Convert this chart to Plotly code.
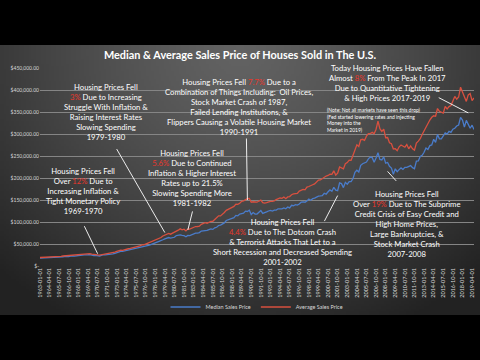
import base64, struct, zlib, math
import plotly.graph_objects as go

# ---------------- data ----------------
years = list(range(1963, 2020))
quarters = []
for y in years:
    for m in (1, 4, 7, 10):
        quarters.append(f"{y}-{m:02d}-01")
quarters = quarters[:227]  # 1963-01-01 .. 2019-07-01

median_price = [
    17800, 18000, 17900, 18500, 18500, 18900, 18900, 19400, 20200, 19800, 20200, 19800,
    21000, 22100, 21500, 21400, 22300, 23300, 22500, 22700, 23500, 24600, 25000, 25400,
    25000, 25600, 25900, 24800, 23900, 24400, 23000, 22800, 24300, 25800, 25300, 25500,
    26800, 27300, 27600, 28500, 30300, 32100, 33400, 33200, 34200, 35200, 36600, 36500,
    38100, 38700, 39400, 41500, 42200, 44000, 43700, 45500, 46300, 47700, 49300, 50600,
    51600, 54300, 56000, 57200, 59600, 61800, 63900, 64700, 63500, 64800, 65300, 69200,
    70400, 70800, 69500, 68900, 66400, 69600, 69200, 71500, 73600, 74700, 74800, 76000,
    79500, 79800, 80900, 80800, 82800, 84300, 83200, 86800, 88000, 92100, 93000, 95000,
    97900, 103400, 105000, 108000, 110000, 110000, 115000, 114000, 118000, 118900, 120000, 124800,
    123900, 126800, 117000, 121500, 118000, 118000, 121500, 126000, 119500, 122000, 123000, 125000,
    126500, 125000, 127000, 127000, 130000, 130000, 129700, 132000, 130000, 133900, 132000, 138000,
    137000, 139300, 138500, 141000, 145000, 145800, 145000, 148000, 152200, 149500, 153000, 154200,
    157400, 158700, 159300, 160000, 165300, 163200, 168800, 172900, 169800, 179000, 172500, 171100,
    188700, 187200, 178100, 190100, 186000, 191800, 191900, 198800, 212700, 217600, 213500, 228800,
    232500, 233700, 236400, 243600, 247700, 246300, 235600, 245400, 257400, 242200, 241000, 247900,
    233900, 235300, 226500, 222500, 208400, 220900, 214300, 219000, 222900, 219500, 224100, 224300,
    226900, 228100, 223500, 221100, 238400, 238700, 248800, 251700, 258400, 268100, 264800, 273600,
    275200, 288000, 281000, 298900, 289200, 289100, 295800, 302500, 299800, 306000, 303800, 310900,
    313100, 318200, 320500, 337900, 331800, 315600, 330900, 322800, 313000, 320000, 310000,
]

average_price = [
    19300, 19400, 19200, 19600, 19600, 20200, 20500, 20900, 21500, 21000, 21600, 21700,
    22700, 23200, 23000, 22800, 24000, 24200, 24300, 25000, 25600, 26600, 27000, 27600,
    27800, 28400, 28300, 27200, 26100, 26200, 25300, 24800, 25500, 27300, 28000, 27900,
    29500, 29900, 30400, 31600, 33200, 35000, 35900, 35600, 37300, 38800, 39200, 39900,
    40900, 42000, 42300, 44500, 45500, 48000, 48000, 49800, 51700, 53000, 55200, 56700,
    58300, 61000, 63200, 64800, 68200, 70400, 73000, 74200, 72300, 75100, 76200, 79200,
    81400, 84400, 82200, 83700, 79700, 84300, 83900, 86200, 87600, 89700, 89800, 90600,
    94700, 96300, 98500, 97200, 99300, 101600, 101700, 106000, 110000, 114000, 113800, 116800,
    121500, 126600, 128500, 131000, 134000, 135500, 140500, 140000, 142500, 147000, 148000, 151300,
    153000, 153600, 145000, 146000, 145500, 145000, 147600, 150000, 144000, 142800, 143800, 146000,
    147000, 147000, 148000, 151000, 153600, 154500, 153800, 156900, 153000, 157000, 157800, 162000,
    163700, 164800, 164900, 170200, 172800, 174100, 173000, 179200, 180700, 181900, 184700, 186500,
    191700, 195100, 195600, 198900, 203000, 204500, 205700, 208800, 208200, 216300, 206700, 211000,
    225000, 222100, 220600, 232500, 235100, 240700, 240200, 251900, 264100, 275500, 271400, 286700,
    287900, 285400, 295000, 301000, 301000, 303700, 300400, 310800, 329400, 312000, 305800, 310900,
    291600, 292000, 280000, 278000, 266000, 266600, 262000, 270900, 275000, 272000, 270000, 276000,
    266400, 273100, 266500, 263400, 279300, 283900, 289200, 298700, 307000, 317600, 322700, 331700,
    338000, 341400, 340300, 357900, 351500, 349000, 347600, 362500, 357000, 362200, 364500, 374800,
    385500, 378900, 384000, 406400, 394800, 385400, 374000, 389000, 392000, 376000, 382000,
]

y_tick_values = [0, 50000, 100000, 150000, 200000, 250000, 300000, 350000, 400000, 450000]
y_tick_labels = ["$-", "$50,000.00", "$100,000.00", "$150,000.00", "$200,000.00",
                 "$250,000.00", "$300,000.00", "$350,000.00", "$400,000.00", "$450,000.00"]
x_tick_labels = quarters[::5]

series_names = ["Median Sales Price", "Average Sales Price"]
series_colors = ["#4a7cca", "#d8503f"]

# ---------------- geometry helpers ----------------
W, H = 480, 360
ML, MR, MT, MB = 40, 6, 68, 94
PW, PH = W - ML - MR, H - MT - MB


def px(xp):
    return (xp - ML) / PW


def py(yp):
    return (H - MB - yp) / PH


# ---------------- background gradient image ----------------
def gradient_png(w, h):
    rows = []
    for j in range(h):
        v = j / (h - 1)
        row = bytearray([0])
        for i in range(w):
            u = i / (w - 1)
            d = math.sqrt(((u - 0.5) / 0.72) ** 2 + ((v - 0.02) / 1.15) ** 2)
            t = min(d, 1.0) ** 1.3
            c = int(round(98 + (34 - 98) * t))
            row += bytes([c, c, c])
        rows.append(bytes(row))
    raw = b"".join(rows)

    def chunk(tag, data):
        return struct.pack(">I", len(data)) + tag + data + struct.pack(">I", zlib.crc32(tag + data) & 0xffffffff)

    png = b"\x89PNG\r\n\x1a\n"
    png += chunk(b"IHDR", struct.pack(">IIBBBBB", w, h, 8, 2, 0, 0, 0))
    png += chunk(b"IDAT", zlib.compress(raw, 9))
    png += chunk(b"IEND", b"")
    return "data:image/png;base64," + base64.b64encode(png).decode()


bg = gradient_png(192, 108)

# ---------------- figure ----------------
fig = go.Figure()
for name, vals, col in zip(series_names, [median_price, average_price], series_colors):
    fig.add_trace(go.Scatter(x=quarters, y=vals, mode="lines", name=name,
                             line=dict(color=col, width=1.3)))

FONT = "Lato"
RED = "#e8372c"


def r(s):
    return f'<span style="color:{RED}">{s}</span>'


texts = [
    (106, 112, "Housing Prices Fell<br>" + r("3%") + " Due to Increasing<br>Struggle With Inflation &amp;<br>"
               "Raising Interest Rates<br>Slowing Spending<br>1979-1980"),
    (83, 191, "Housing Prices Fell<br>Over " + r("12%") + " Due to<br>Increasing Inflation &amp;<br>"
              "Tight Monetary Policy<br>1969-1970"),
    (192, 178, "Housing Prices Fell<br>" + r("5.6%") + " Due to Continued<br>Inflation &amp; Higher Interest<br>"
               "Rates up to 21.5%<br>Slowing Spending More<br>1981-1982"),
    (239, 107, "Housing Prices Fell " + r("7.7%") + " Due to a<br>Combination of Things Including:  Oil Prices,<br>"
               "Stock Market Crash of 1987,<br>Failed Lending Institutions, &amp;<br>"
               "Flippers Causing a Volatile Housing Market<br>1990-1991"),
    (282, 242, "Housing Prices Fell<br>" + r("4.4%") + " Due to The Dotcom Crash<br>&amp; Terrorist Attacks That Let to a<br>"
               "Short Recession and Decreased Spending<br>2001-2002"),
    (406, 224, "Housing Prices Fell<br>Over " + r("19%") + " Due to The Subprime<br>Credit Crisis of Easy Credit and<br>"
               "High Home Prices,<br>Large Bankruptcies, &amp;<br>Stock Market Crash<br>2007-2008"),
    (387, 83, "Today Housing Prices Have Fallen<br>Almost " + r("8%") + " From The Peak In 2017<br>"
              "Due to Quantitative Tightening<br>&amp; High Prices 2017-2019"),
]
for cx, cy, t in texts:
    fig.add_annotation(x=px(cx), y=py(cy), xref="paper", yref="paper", text=t, showarrow=False,
                       xanchor="center", yanchor="middle", align="center",
                       font=dict(family=FONT, size=7.7, color="white"))

fig.add_annotation(x=px(325), y=py(119.5), xref="paper", yref="paper",
                   text="(Note: Not all markets have seen this drop)<br>(Fed started lowering rates and injecting<br>"
                        "Money into the<br>Market in 2019)",
                   showarrow=False, xanchor="left", yanchor="middle", align="left",
                   font=dict(family=FONT, size=5, color="white"))

# pointer lines (head at a data point, tail offset in pixels)
pointers = [
    ("1970-07-01", 28000, -14, -29),
    ("1979-04-01", 76000, -49, -85),
    ("1982-04-01", 82000, 5, -20),
    ("1990-01-01", 150000, -1, -63),
    ("2001-10-01", 160000, -14, 27),
    ("2008-04-01", 215000, 10, 11),
    ("2018-10-01", 348000, -31, -16),
]
for xq, yv, ax, ay in pointers:
    fig.add_annotation(x=xq, y=yv, xref="x", yref="y", text="", showarrow=True,
                       arrowhead=0, arrowwidth=0.9, arrowcolor="white", ax=ax, ay=ay, standoff=0)

fig.add_layout_image(source=bg, xref="paper", yref="paper", x=px(0), y=py(45),
                     sizex=W / PW, sizey=270 / PH, xanchor="left", yanchor="top",
                     sizing="stretch", layer="below")

fig.update_layout(
    width=W, height=H,
    margin=dict(l=ML, r=MR, t=MT, b=MB),
    paper_bgcolor="black",
    plot_bgcolor="rgba(0,0,0,0)",
    title=dict(text="<b>Median &amp; Average Sales Price of Houses Sold in The U.S.</b>",
               x=0.5, xref="container", xanchor="center",
               y=(H - 55) / H, yref="container", yanchor="middle",
               font=dict(family=FONT, size=10.9, color="white")),
    legend=dict(orientation="h", x=0.5, xanchor="center", y=py(307), yanchor="middle",
                font=dict(family=FONT, size=5.5, color="#d8d8d8"), bgcolor="rgba(0,0,0,0)",
                itemwidth=30),
    xaxis=dict(type="category", tickmode="array", tickvals=x_tick_labels, ticktext=x_tick_labels,
               tickangle=-90, tickfont=dict(family=FONT, size=5.5, color="#d8d8d8"),
               showgrid=False, zeroline=False, showline=False, ticks=""),
    yaxis=dict(range=[0, 450000], tickmode="array", tickvals=y_tick_values, ticktext=y_tick_labels,
               tickfont=dict(family=FONT, size=5, color="#d8d8d8"),
               showgrid=True, gridcolor="#858585", gridwidth=0.6, zeroline=False, showline=False,
               ticks=""),
)

fig.write_html("out.html", config={"displayModeBar": False},
               post_script="document.body.style.margin='0';document.body.style.overflow='hidden';")
